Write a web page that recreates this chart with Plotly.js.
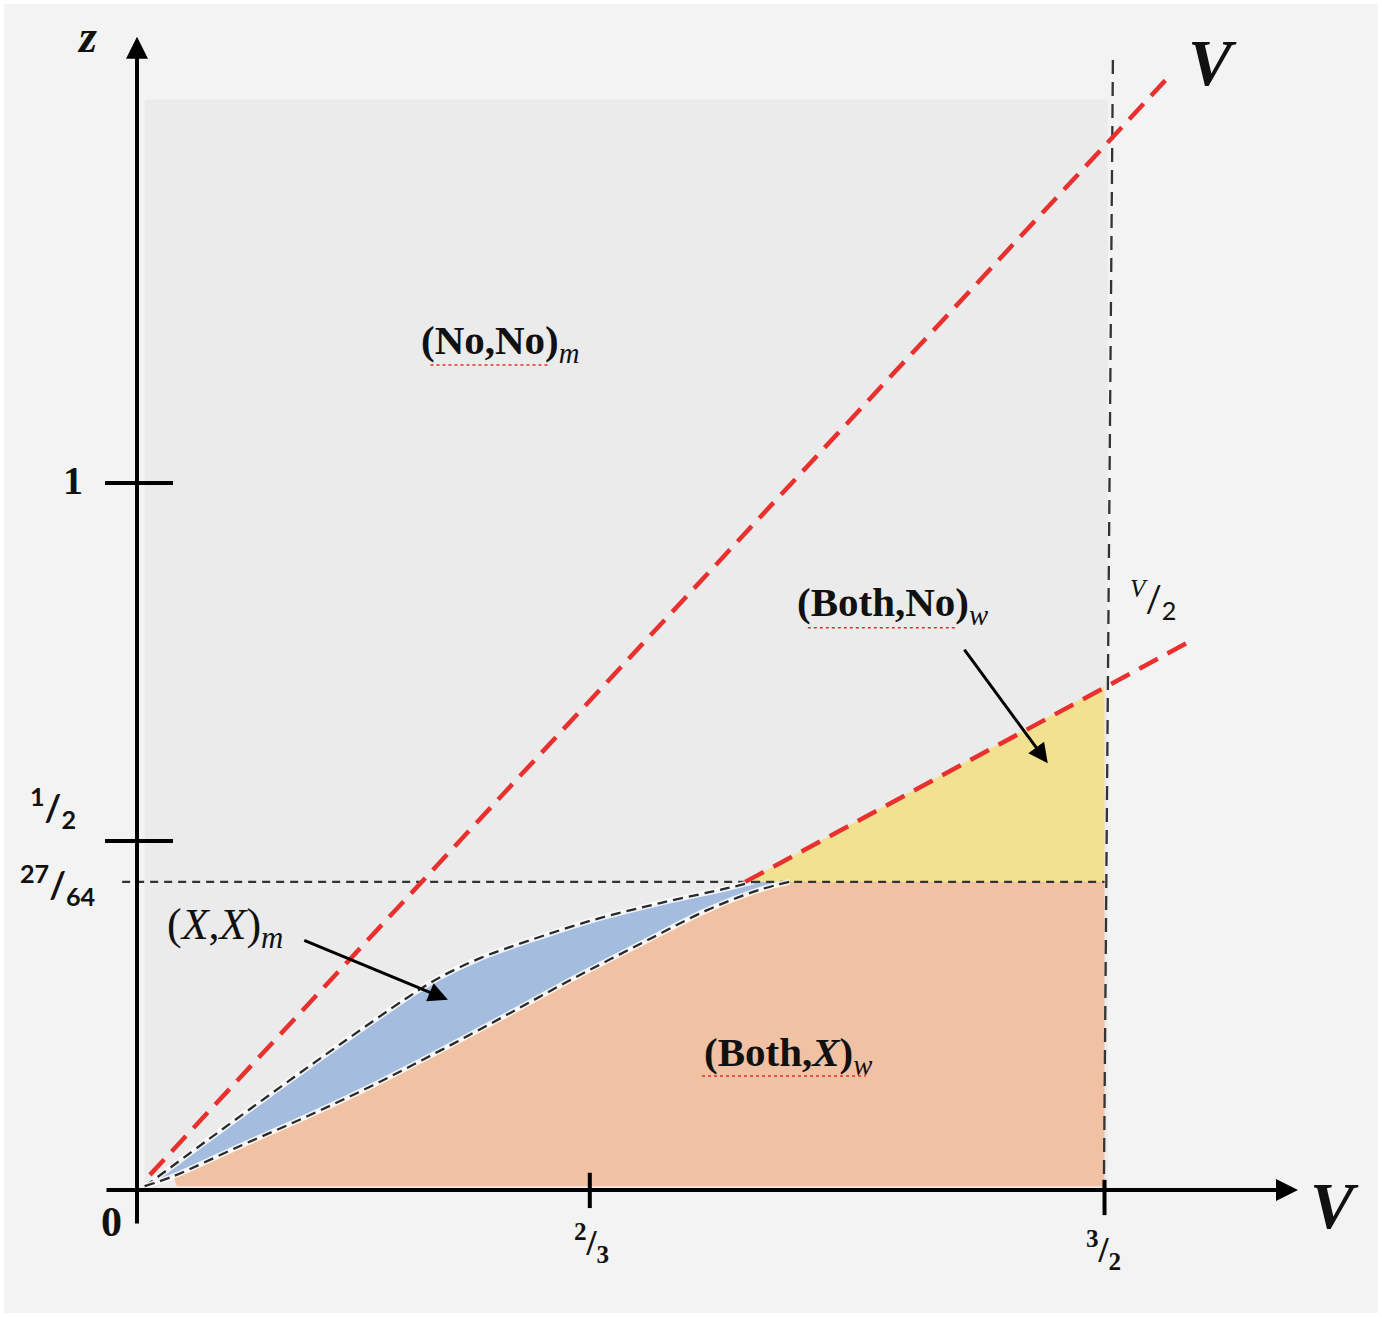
<!DOCTYPE html>
<html><head><meta charset="utf-8">
<script src="https://cdn.plot.ly/plotly-3.0.1.min.js"></script>
<style>html,body{margin:0;padding:0;background:#fff;} #chart{width:1382px;height:1317px;}</style>
</head><body><div id="chart"></div>
<script>
// ---- Diagram values (V on horizontal axis, z on vertical axis; diagram is not to scale) ----
const upperV = [0.012, 0.020, 0.109, 0.211, 0.315, 0.419, 0.470, 0.532, 0.605, 0.707, 0.811, 0.915, 0.955];
const upperZ = [0.004, 0.009, 0.069, 0.137, 0.205, 0.271, 0.300, 0.327, 0.351, 0.381, 0.405, 0.426, 0.435];
const lowerV = [0.012, 0.056, 0.160, 0.264, 0.366, 0.470, 0.574, 0.676, 0.780, 0.884, 0.966, 1.012];
const lowerZ = [0.004, 0.018, 0.061, 0.103, 0.147, 0.196, 0.247, 0.298, 0.347, 0.395, 0.424, 0.435];
const vMax = 1.5;          // position of 3/2
const zThreshold = 0.435;  // position of 27/64
const zBase = 0.004;
const redLine1V = [0.020, 1.595];
const redLine1Z = [0.020, 1.571];
const redLine2V = [0.943, 1.637];
const redLine2Z = [0.435, 0.778];
const yellowV = [0.943, 1.5, 1.5];
const yellowZ = [0.435, 0.712, 0.435];
const grayV = [0.012, 1.505];
const grayZ = [0, 1.543];
const vertLineV = [1.513, 1.499];
const vertLineZ = [1.599, 0];
const yTickPos = [1, 0.493];
const yTickText = ["1", "<sup>1</sup>/<sub>2</sub>"];
const thresholdText = "<sup>27</sup>/<sub>64</sub>";
const xTickPos = [0.702, 1.5];
const xTickText = ["<sup>2</sup>/<sub>3</sub>", "<sup>3</sup>/<sub>2</sub>"];

const xr = [-0.2124, 1.9302], yr = [-0.1813, 1.6841];

const traces = [];
// orange (Both,X)_w
traces.push({x:[...lowerV.slice(1), vMax, vMax, lowerV[1]+0.006], y:[...lowerZ.slice(1), zThreshold, zBase, zBase],
  mode:'lines', fill:'toself', fillcolor:'#f1c1a3', line:{width:0}, hoverinfo:'skip'});
// blue (X,X)_m
traces.push({x:[...upperV, ...lowerV.slice().reverse()], y:[...upperZ, ...lowerZ.slice().reverse()],
  mode:'lines', fill:'toself', fillcolor:'#a4bddf', line:{width:0, shape:'spline'}, hoverinfo:'skip'});
// yellow (Both,No)_w
traces.push({x:yellowV, y:yellowZ, mode:'lines', fill:'toself', fillcolor:'#f3e192', line:{width:0}, hoverinfo:'skip'});
// threshold dashed line
traces.push({x:[-0.023, vMax], y:[zThreshold, zThreshold], mode:'lines', line:{color:'#333', width:2.3, dash:'8px,6px'}, hoverinfo:'skip'});
// vertical dashed line at 3/2
traces.push({x:vertLineV, y:vertLineZ, mode:'lines', line:{color:'#333', width:2.3, dash:'14px,8px'}, hoverinfo:'skip'});
// curve halos and dashed curves
[[upperV, upperZ], [lowerV, lowerZ]].forEach(([vx, vz]) => {
  traces.push({x:vx, y:vz, mode:'lines', line:{color:'rgba(255,255,255,0.85)', width:5.5, shape:'spline'}, hoverinfo:'skip'});
  traces.push({x:vx, y:vz, mode:'lines', line:{color:'#2a2a2a', width:2.3, dash:'10px,6px', shape:'spline'}, hoverinfo:'skip'});
});
// red dashed lines
traces.push({x:redLine1V, y:redLine1Z, mode:'lines', line:{color:'#e8302e', width:4.5, dash:'21px,11px'}, hoverinfo:'skip'});
traces.push({x:redLine2V, y:redLine2Z, mode:'lines', line:{color:'#e8302e', width:4.5, dash:'21px,11px'}, hoverinfo:'skip'});

const shapes = [
  {type:'rect', xref:'paper', yref:'paper', x0:0.003, x1:0.997, y0:0.003, y1:0.997, fillcolor:'#f3f3f3', line:{width:0}, layer:'below'},
  {type:'rect', x0:grayV[0], x1:grayV[1], y0:grayZ[0], y1:grayZ[1], fillcolor:'#ebebeb', line:{width:0}, layer:'below'},
];
// y tick marks
yTickPos.forEach(p => shapes.push({type:'line', x0:-0.0496, x1:0.0558, y0:p, y1:p, line:{color:'#000', width:4}}));
// x tick marks
shapes.push({type:'line', x0:xTickPos[0], x1:xTickPos[0], y0:0.023, y1:-0.027, line:{color:'#000', width:4}});
shapes.push({type:'line', x0:xTickPos[1], x1:xTickPos[1], y0:0.013, y1:-0.037, line:{color:'#000', width:4}});
// red squiggle underlines
shapes.push({type:'line', x0:0.455, x1:0.640, y0:1.167, y1:1.167, line:{color:'#e03030', width:1.5, dash:'dot'}});
shapes.push({type:'line', x0:1.040, x1:1.270, y0:0.795, y1:0.795, line:{color:'#e03030', width:1.5, dash:'dot'}});
shapes.push({type:'line', x0:0.876, x1:1.130, y0:0.160, y1:0.160, line:{color:'#e03030', width:1.5, dash:'dot'}});

const serif = 'Liberation Serif';
const ann = [];
function txt(x, y, text, size, family, extra) {
  ann.push(Object.assign({x, y, text, showarrow:false, xanchor:'center', yanchor:'middle',
    font:{size, family, color:'#111'}}, extra || {}));
}
// axes with arrowheads
ann.push({x:1.80, y:-0.0014, ax:-0.0496, ay:-0.0014, axref:'x', ayref:'y', text:'', showarrow:true,
  arrowhead:2, arrowsize:1.1, arrowwidth:4, arrowcolor:'#000', standoff:0});
ann.push({x:0, y:1.632, ax:0, ay:-0.051, axref:'x', ayref:'y', text:'', showarrow:true,
  arrowhead:2, arrowsize:1.1, arrowwidth:4, arrowcolor:'#000', standoff:0});
// pointer arrows
ann.push({x:0.482, y:0.268, ax:0.257, ay:0.353, axref:'x', ayref:'y', text:'', showarrow:true,
  arrowhead:2, arrowsize:1.3, arrowwidth:3, arrowcolor:'#000', standoff:0});
ann.push({x:1.412, y:0.603, ax:1.281, ay:0.766, axref:'x', ayref:'y', text:'', showarrow:true,
  arrowhead:2, arrowsize:1.3, arrowwidth:3, arrowcolor:'#000', standoff:0});

// axis labels
txt(-0.0775, 1.632, '<b><i>z</i></b>', 46, serif);
txt(1.668, 1.595, '<b><i>V</i></b>', 66, serif);
txt(1.857, -0.024, '<b><i>V</i></b>', 66, serif);
// tick labels
txt(-0.099, 1.003, '<b>' + yTickText[0] + '</b>', 40, serif);
txt(-0.131, 0.540, '<b>' + yTickText[1] + '</b>', 36, 'Lato');
txt(-0.124, 0.431, '<b>' + thresholdText + '</b>', 36, 'Lato');
txt(-0.040, -0.047, '<b>0</b>', 42, 'Liberation Sans Narrow');
txt(0.705, -0.077, '<b>' + xTickText[0] + '</b>', 36, 'Liberation Sans Narrow');
txt(1.499, -0.086, '<b>' + xTickText[1] + '</b>', 36, 'Liberation Sans Narrow');
txt(1.575, 0.834, '<sup><i><span style="font-family:Liberation Serif">V</span></i></sup>/<sub>2</sub>', 36, 'Lato');
// region labels
txt(0.563, 1.198, '<b>(No,No)</b><sub><i>m</i></sub>', 41, serif);
txt(1.172, 0.827, '<b>(Both,No)</b><sub><i>w</i></sub>', 41, serif);
txt(1.009, 0.190, '<b>(Both,<i>X</i>)</b><sub><i>w</i></sub>', 41, serif);
txt(0.136, 0.371, '(<i>X</i>,<i>X</i>)<sub><i>m</i></sub>', 44, serif);

const layout = {
  width:1382, height:1317, margin:{l:0, r:0, t:0, b:0},
  paper_bgcolor:'#ffffff', plot_bgcolor:'rgba(0,0,0,0)', showlegend:false,
  xaxis:{range:xr, visible:false, fixedrange:true},
  yaxis:{range:yr, visible:false, fixedrange:true},
  shapes, annotations:ann
};
Plotly.newPlot('chart', traces, layout, {staticPlot:true, displayModeBar:false});
</script></body></html>
